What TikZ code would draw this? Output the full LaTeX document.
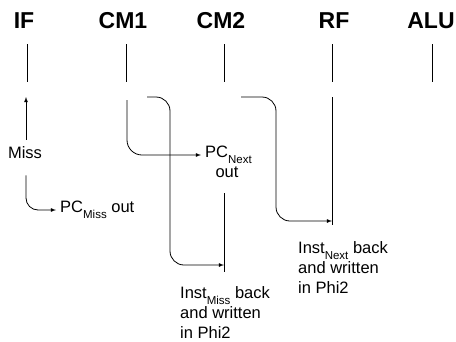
\documentclass[tikz,border=0pt]{standalone}
\usepackage{fontspec}
\setmainfont{Liberation Sans}
\usepackage{tikz}
\usetikzlibrary{arrows}
\usetikzlibrary{positioning}

\newcommand{\lowsub}[1]{\raisebox{-6pt}{\fontsize{11.5}{12}\selectfont #1}}

\tikzset{
  stage/.style={font=\fontsize{23}{26}\selectfont\bfseries, inner sep=0pt},
  note/.style={font=\fontsize{16.5}{20}\selectfont, inner sep=4pt, align=left},
  wire/.style={line width=0.8pt, draw=black},
}

\begin{document}
\begin{tikzpicture}[x=1pt, y=-1pt]
\useasboundingbox (0, 0) rectangle (456, 341);
\node [stage, anchor=base] (IF) at (24, 28) {IF};
\node [stage, anchor=base] (CM1) at (123, 28) {CM1};
\node [stage, anchor=base] (CM2) at (221, 28) {CM2};
\node [stage, anchor=base] (RF) at (334, 28) {RF};
\node [stage, anchor=base] (ALU) at (431, 28) {ALU};
\coordinate (IFa) at (27, 44);
\coordinate (IFb) at (27, 82);
\coordinate (CM1a) at (126, 44);
\coordinate (CM1b) at (126, 82);
\coordinate (CM2a) at (224, 44);
\coordinate (CM2b) at (224, 82);
\coordinate (RFa) at (332, 44);
\coordinate (RFb) at (332, 82);
\coordinate (ALUa) at (432, 44);
\coordinate (ALUb) at (432, 82);
\draw [wire] (IFa) to (IFb);
\draw [wire] (CM1a) to (CM1b);
\draw [wire] (CM2a) to (CM2b);
\draw [wire] (RFa) to (RFb);
\draw [wire] (ALUa) to (ALUb);
\node [note, anchor=base] (Miss) at (25, 158) {Miss};
\node [note, anchor=mid west] (PCMiss) at (56, 210) {PC\lowsub{Miss} out};
\node [note, anchor=mid west] (PCNext) at (201, 155) {PC\lowsub{Next}};
\node [note, anchor=base] (PCNextOut) at (227, 177) {out};
\node [note, anchor=north west] (InstNext) at (294, 237) {Inst\lowsub{Next} back\\and written\\in Phi2};
\node [note, anchor=north west] (InstMiss) at (176, 282) {Inst\lowsub{Miss} back\\and written\\in Phi2};
\coordinate (IFup) at (26, 97);
\coordinate (CM1c) at (127, 100);
\coordinate (CM1d) at (147, 97);
\coordinate (CM1bend) at (170, 97);
\coordinate (CM2lt) at (224, 193);
\coordinate (CM2lb) at (224, 272);
\coordinate (CM2in) at (224, 265);
\coordinate (CM2c) at (241, 97);
\coordinate (CM2bend) at (276, 97);
\coordinate (RFlt) at (332, 97);
\coordinate (RFlb) at (332, 225);
\coordinate (RFin) at (332, 221);
\draw [wire, -latex, shorten <=2pt] (Miss.north -| IFup) to (IFup);
\draw [wire, -latex, rounded corners=12pt, shorten <=13pt] (Miss.south -| IFup) |- (PCMiss.mid west);
\draw [wire, -latex, rounded corners=15pt] (CM1c) |- (PCNext.mid west);
\draw [wire] (CM2lt) to (CM2lb);
\draw [wire, -latex, rounded corners=14pt] (CM1d) -- (CM1bend) |- (CM2in);
\draw [wire] (RFlt) to (RFlb);
\draw [wire, -latex, rounded corners=14pt] (CM2c) -- (CM2bend) |- (RFin);
\end{tikzpicture}
\end{document}
